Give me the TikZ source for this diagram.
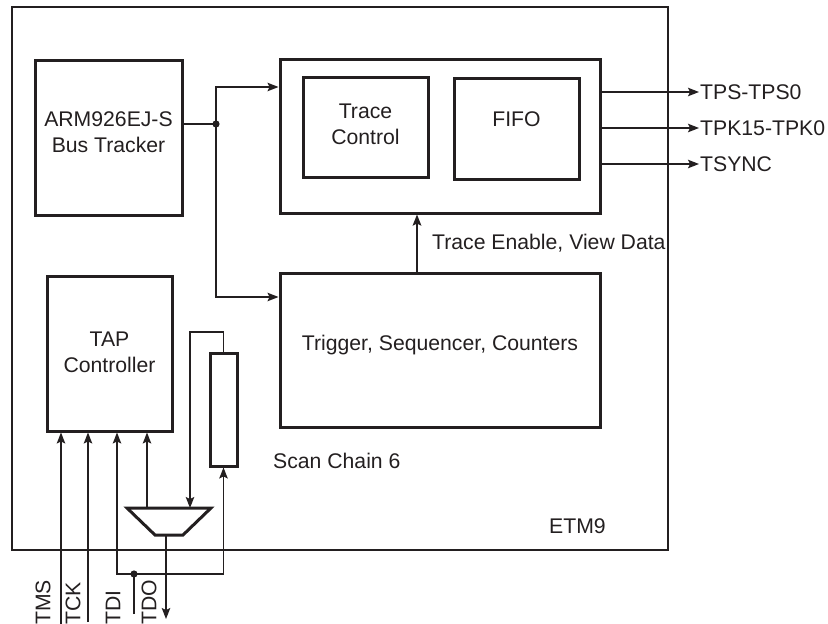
\documentclass[tikz,border=0pt]{standalone}
\usepackage{fontspec}
\setmainfont{Liberation Sans}
\usetikzlibrary{arrows.meta}

\definecolor{ink}{HTML}{231F20}

\tikzset{
  blk/.style={draw=ink, line width=3pt, inner sep=0pt},
  frame/.style={draw=ink, line width=2.5pt, inner sep=0pt},
  lbl/.style={font=\fontsize{21.2pt}{26pt}\selectfont, align=center, text=ink},
  sig/.style={draw=ink, line width=1.35pt},
  bus/.style={draw=ink, line width=2.2pt},
  >={Stealth[length=11pt,width=8.5pt,inset=2pt]}
}

\begin{document}
\begin{tikzpicture}[x=1pt, y=-1pt]
  \useasboundingbox (0,0) rectangle (828,624);

  % outer ETM9 block
  \node[frame, minimum width=656pt, minimum height=543pt] (etm) at (340,278.5) {};
  \node[lbl, anchor=west, inner sep=0pt] (etml) at (549,526) {ETM9};

  % blocks
  \node[blk, minimum width=147pt, minimum height=155pt,
        label={[lbl, yshift=5.5pt]center:{ARM926EJ-S\\Bus Tracker}}] (arm) at (108.5,137.5) {};
  \node[blk, minimum width=320pt, minimum height=154pt] (tbox) at (440,136) {};
  \node[blk, minimum width=125pt, minimum height=100pt,
        label={[lbl, yshift=2.5pt]center:{Trace\\Control}}] (tc) at (365.5,127) {};
  \node[blk, minimum width=125pt, minimum height=101pt,
        label={[lbl, yshift=9.5pt]center:FIFO}] (fifo) at (516.5,128.5) {};
  \node[blk, minimum width=320pt, minimum height=154pt,
        label={[lbl, yshift=5pt]center:{Trigger, Sequencer, Counters}}] (trig) at (440,350) {};
  \node[blk, minimum width=125pt, minimum height=155pt,
        label={[lbl, yshift=1.5pt]center:{TAP\\Controller}}] (tap) at (109.5,353.5) {};
  \node[blk, minimum width=27pt, minimum height=113pt] (scan) at (223.5,409.5) {};
  \node[lbl, anchor=west, inner sep=0pt] (scanl) at (273,461) {Scan Chain 6};

  % multiplexer
  \draw[blk] (127,508) -- (211,508) -- (183,535) -- (155,535) -- cycle;
  \coordinate (mux-out) at (147,508);
  \coordinate (mux-in) at (190,508);
  \coordinate (mux-bot) at (166,535);

  % bus tracker fan-out
  \coordinate (split) at (216,124);
  \draw[sig] (arm.east |- split) -- (split);
  \draw[sig,->] (split) |- (tbox.west |- 0,87);
  \draw[sig,->] (split) |- (trig.west |- 0,297);
  \fill[ink] (split) circle (3.6pt);

  \draw[bus,->] (trig.north -| 417,0) -- (tbox.south -| 417,0);
  \node[lbl, anchor=west, inner sep=0pt] (tel) at (432,243) {Trace Enable, View Data};

  % trace port outputs
  \foreach \y/\txt/\nm in {92/TPS-TPS0/tps, 128/TPK15-TPK0/tpk, 164/TSYNC/tsync} {
    \node[lbl, anchor=west, inner sep=1pt] (\nm) at (699,\y) {\txt};
    \draw[sig,->] (tbox.east |- \nm.west) -- (\nm.west);
  }

  % JTAG pins
  \foreach \x/\txt in {43/TMS, 73/TCK, 113/TDI, 149/TDO}
    \node[lbl, rotate=90, anchor=west, inner sep=0pt] (pin-\txt) at (\x,625) {\txt};

  \foreach \x/\y/\nm in {61/624/tms, 88/622/tck} {
    \coordinate (\nm-in) at (\x,\y);
    \draw[sig,->] (\nm-in) -- (tap.south -| \nm-in);
  }

  \coordinate (tdi-in) at (134,614);
  \coordinate (tdijoin) at (134,574);
  \draw[sig] (tdi-in) -- (tdijoin);
  \draw[sig,->] (tdijoin) -| (tap.south -| 117,0);
  \draw[sig,->] (tdijoin) -| (scan.south);
  \fill[ink] (tdijoin) circle (3.6pt);

  \draw[sig,->] (mux-out) -- (tap.south -| mux-out);
  \coordinate (loop) at (190,332);
  \draw[sig,->] (scan.north) |- (loop) -- (mux-in);
  \coordinate (tdo-out) at (166,619);
  \draw[sig,->] (mux-bot) -- (tdo-out);
\end{tikzpicture}
\end{document}
